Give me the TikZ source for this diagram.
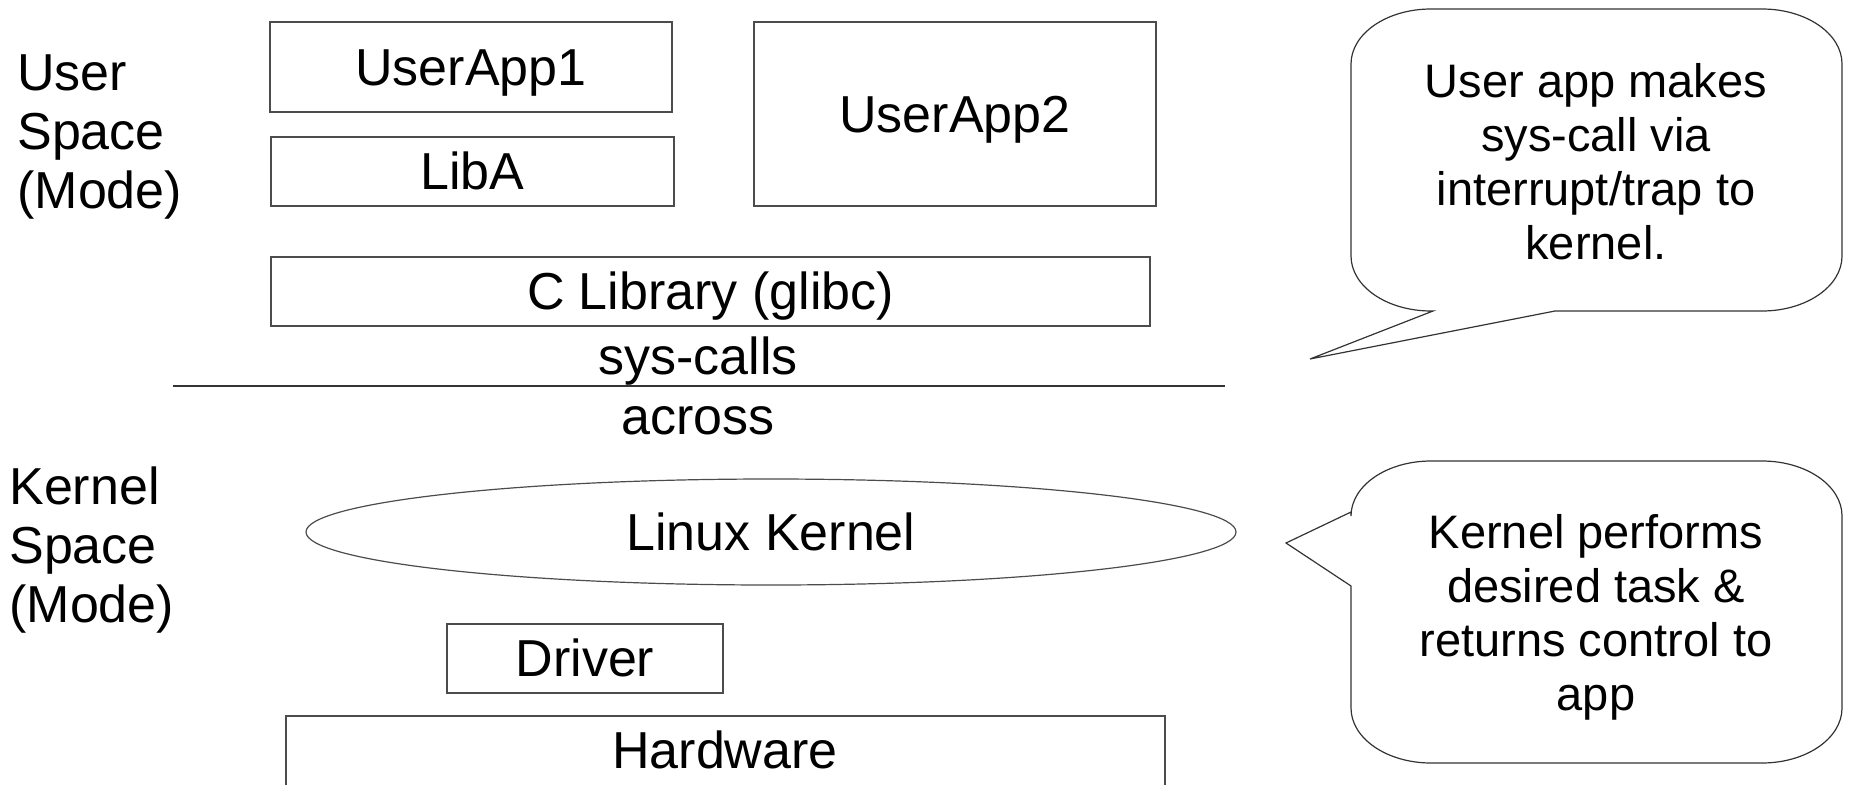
\documentclass[tikz,border=0pt]{standalone}
\usepackage{fontspec}
\setmainfont{Liberation Sans}
\usetikzlibrary{shapes.geometric}
\begin{document}
\begin{tikzpicture}[x=0.5pt,y=0.5pt,
  lbl/.style={inner sep=0pt,font=\fontsize{26}{29.5}\selectfont,text height=23.9pt,text depth=5.5pt},
  mlbl/.style={inner sep=0pt,align=left,anchor=west,font=\fontsize{26}{29.5}\selectfont},
  boxn/.style={draw=black!70,line width=0.6pt,inner sep=0pt,font=\fontsize{26}{29.5}\selectfont,text height=23.9pt,text depth=5.5pt},
  bubble/.style={draw=black!80,line width=0.6pt},
  btext/.style={inner sep=0pt,align=center,font=\fontsize{23.5}{27}\selectfont}]
\useasboundingbox (0,0) rectangle (1850,784);
% left labels
\node[mlbl] (us) at (17,647) {User\\Space\\(Mode)};
\node[mlbl] (ks) at (9,234) {Kernel\\Space\\(Mode)};
% user boxes
\node[boxn,minimum width=201pt,minimum height=45pt] (ua1) at (471,717) {UserApp1};
\node[boxn,minimum width=201.5pt,minimum height=34.5pt] (liba) at (472.5,612.5) {LibA};
\node[boxn,minimum width=201pt,minimum height=92pt] (ua2) at (955,670) {UserApp2};
\node[boxn,minimum width=439.5pt,minimum height=34.5pt] (clib) at (710.5,492.5) {C Library (glibc)};
\node[lbl] (sc) at (698,428) {sys-calls};
\coordinate (l1) at (173,398);
\coordinate (l2) at (1225,398);
\draw[black!80,line width=0.6pt] (l1) -- (l2);
\node[lbl] (ac) at (698,368) {across};
% kernel
\node[boxn,ellipse,minimum width=465pt,minimum height=53pt] (lk) at (771,252) {Linux Kernel};
\node[boxn,minimum width=138pt,minimum height=34.5pt] (drv) at (585,125.5) {Driver};
\node[lbl] (hw) at (725,34) {Hardware};
\draw[black!70,line width=0.6pt] (286,-20) -- (286,68) -- (1165,68) -- (1165,-20);
% callout 1
\draw[bubble] (1555,473) -- (1310,425) -- (1433,473) -- (1431,473)
  arc[start angle=270,end angle=180,x radius=80,y radius=55] -- (1351,720)
  arc[start angle=180,end angle=90,x radius=80,y radius=55] -- (1762,775)
  arc[start angle=90,end angle=0,x radius=80,y radius=55] -- (1842,528)
  arc[start angle=0,end angle=-90,x radius=80,y radius=55] -- cycle;
\node[btext] (t1) at (1596,622) {User app makes\\sys-call via\\interrupt/trap to\\kernel.};
% callout 2
\draw[bubble] (1351,198) -- (1286,241) -- (1351,272) -- (1351,268)
  arc[start angle=180,end angle=90,x radius=80,y radius=55] -- (1762,323)
  arc[start angle=90,end angle=0,x radius=80,y radius=55] -- (1842,76)
  arc[start angle=0,end angle=-90,x radius=80,y radius=55] -- (1431,21)
  arc[start angle=270,end angle=180,x radius=80,y radius=55] -- cycle;
\node[btext] (t2) at (1596,167) {Kernel performs\\desired task \&\\returns control to\\app};
\end{tikzpicture}
\end{document}
